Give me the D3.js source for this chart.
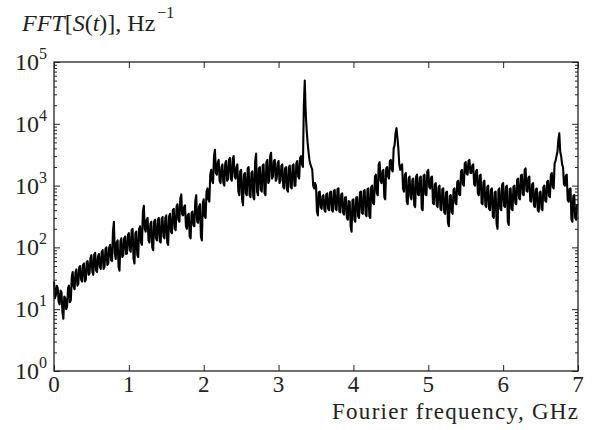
<!DOCTYPE html>
<html>
<head>
<meta charset="utf-8">
<script src="https://cdn.jsdelivr.net/npm/d3@7"></script>
<style>
  body { margin: 0; background: #fff; }
  text { font-family: "Liberation Serif", "DejaVu Serif", serif; fill: #222; }
</style>
</head>
<body>
<div id="chart"></div>
<script>
// spectrum values (Hz^-1) at 0, 0.025, 0.05 ... 7 GHz
var spectrum = [
  28, 17, 22, 12, 19, 7, 15, 11, 24, 14,
  40, 21, 44, 26, 50, 28, 55, 30, 60, 38,
  75, 36, 82, 40, 78, 45, 90, 48, 100, 55,
  110, 60, 260, 65, 130, 42, 140, 75, 150, 80,
  170, 85, 200, 55, 180, 70, 220, 110, 470, 180,
  300, 120, 260, 90, 280, 130, 300, 120, 310, 140,
  330, 110, 350, 170, 420, 190, 500, 260, 720, 330,
  480, 200, 350, 140, 380, 220, 700, 250, 500, 130,
  600, 300, 900, 550, 1800, 1100, 3800, 1500, 2600, 1100,
  2200, 1000, 2500, 1300, 2800, 1200, 3000, 1300, 2200, 700,
  1800, 480, 1600, 700, 2000, 650, 1700, 600, 3300, 700,
  2000, 800, 2200, 700, 2600, 1200, 3400, 1400, 2600, 1300,
  2500, 1200, 2200, 900, 2000, 800, 2100, 900, 2200, 1000,
  2500, 1300, 3000, 2000, 50000, 8000, 3500, 2200, 1800, 900,
  1000, 330, 800, 420, 700, 380, 750, 400, 800, 380,
  850, 400, 900, 370, 750, 340, 650, 280, 550, 180,
  600, 260, 650, 300, 800, 350, 850, 320, 900, 300,
  1000, 500, 1500, 700, 2400, 1100, 1800, 600, 2000, 1300,
  2600, 1700, 4500, 8500, 4000, 1800, 2200, 800, 1600, 500,
  1400, 600, 1300, 450, 1500, 700, 1400, 400, 1500, 700,
  1800, 900, 1400, 500, 1100, 450, 1000, 400, 900, 350,
  800, 220, 700, 350, 900, 500, 1200, 700, 1800, 1000,
  2400, 1500, 2600, 1600, 2200, 1000, 1800, 700, 1500, 500,
  1200, 450, 1000, 400, 900, 300, 800, 200, 900, 400,
  1100, 450, 1000, 230, 900, 400, 1000, 500, 1300, 600,
  1500, 700, 1900, 800, 1400, 550, 1100, 450, 900, 380,
  800, 400, 1000, 550, 1200, 650, 1600, 900, 2500, 3500,
  7000, 3000, 2000, 1000, 1500, 550, 900, 260, 700, 280,
  500
];
// values read in between, at 0.0125, 0.0375 ... 6.9875 GHz
var spectrumMid = [
  15, 24, 13, 20, 9, 16, 10, 22, 13, 34,
  23, 40, 24, 48, 30, 52, 28, 58, 36, 68,
  40, 76, 42, 72, 48, 85, 45, 95, 52, 100,
  62, 180, 80, 120, 48, 125, 70, 140, 78, 160,
  90, 190, 65, 170, 75, 200, 120, 380, 200, 280,
  130, 240, 100, 260, 140, 280, 125, 290, 150, 300,
  120, 320, 180, 400, 200, 460, 280, 620, 340, 450,
  220, 330, 150, 360, 230, 560, 260, 460, 150, 520,
  320, 800, 600, 1500, 1200, 3000, 1600, 2400, 1200, 2000,
  1100, 2300, 1200, 2600, 1300, 2700, 1400, 2000, 800, 1700,
  600, 1500, 750, 1900, 700, 1600, 650, 2500, 800, 1900,
  850, 2100, 750, 2400, 1100, 3000, 1300, 2500, 1200, 2300,
  1100, 2100, 950, 1900, 850, 2000, 950, 2100, 1000, 2300,
  1400, 2800, 2200, 20000, 15000, 5000, 2600, 2000, 1000, 1100,
  380, 780, 450, 680, 400, 720, 420, 780, 400, 820,
  420, 880, 380, 720, 360, 640, 300, 560, 220, 580,
  280, 640, 320, 780, 360, 820, 340, 880, 320, 950,
  520, 1400, 750, 2200, 1200, 1700, 650, 1900, 1400, 2500,
  1800, 4000, 7000, 6000, 2200, 2100, 900, 1500, 550, 1300,
  650, 1250, 480, 1400, 720, 1350, 420, 1450, 720, 1700,
  950, 1350, 520, 1050, 480, 950, 420, 880, 370, 780,
  250, 680, 370, 860, 520, 1150, 720, 1700, 1050, 2300,
  1550, 2500, 1600, 2100, 1050, 1700, 750, 1450, 520, 1150,
  480, 950, 420, 860, 320, 780, 240, 850, 420, 1050,
  470, 950, 260, 880, 420, 960, 520, 1250, 620, 1450,
  720, 1800, 820, 1350, 570, 1050, 470, 870, 400, 780,
  420, 950, 570, 1150, 680, 1500, 950, 2300, 3000, 5500,
  3500, 2200, 1050, 1450, 580, 880, 280, 680, 300, 480
];
var freqStep = 0.025;
var xTicks = [0, 1, 2, 3, 4, 5, 6, 7];
var yExponents = [0, 1, 2, 3, 4, 5];

// merge both lists into one series of [GHz, value]
var points = [];
spectrum.forEach((v, i) => {
  points.push([i * freqStep, v]);
  if (i < spectrumMid.length) points.push([(i + 0.5) * freqStep, spectrumMid[i]]);
});

var svgWidth = 593, svgHeight = 430;
var margin = { top: 62, right: 15, bottom: 59, left: 54 };
var chartWidth = svgWidth - margin.left - margin.right;
var chartHeight = svgHeight - margin.top - margin.bottom;

var svg = d3.select("#chart").append("svg")
  .attr("width", svgWidth)
  .attr("height", svgHeight);

var chartGroup = svg.append("g")
  .attr("transform", `translate(${margin.left}, ${margin.top})`);

var xScale = d3.scaleLinear().domain([0, 7]).range([0, chartWidth]);
var yScale = d3.scaleLog().domain([1, 1e5]).range([chartHeight, 0]);

// the spectrum line
var line = d3.line()
  .x(d => xScale(d[0]))
  .y(d => yScale(d[1]));

chartGroup.append("path")
  .datum(points)
  .attr("d", line)
  .attr("fill", "none")
  .attr("stroke", "#000")
  .attr("stroke-width", 2.1)
  .attr("stroke-linejoin", "round");

// ticks inside the frame, on all four sides
var minorVals = [];
yExponents.slice(0, -1).forEach(e => {
  for (var k = 2; k <= 9; k++) minorVals.push(k * Math.pow(10, e));
});

function tickAxis(axis, size, vals) {
  return axis.tickValues(vals).tickSize(size).tickFormat("");
}
var majorY = yExponents.map(e => Math.pow(10, e));

chartGroup.append("g").call(tickAxis(d3.axisBottom(xScale), -6, xTicks))
  .attr("transform", `translate(0, ${chartHeight})`);
chartGroup.append("g").call(tickAxis(d3.axisTop(xScale), -6, xTicks));
chartGroup.append("g").call(tickAxis(d3.axisLeft(yScale), -6, majorY));
chartGroup.append("g").call(tickAxis(d3.axisLeft(yScale), -3, minorVals));
chartGroup.append("g").call(tickAxis(d3.axisRight(yScale), -6, majorY))
  .attr("transform", `translate(${chartWidth}, 0)`);
chartGroup.append("g").call(tickAxis(d3.axisRight(yScale), -3, minorVals))
  .attr("transform", `translate(${chartWidth}, 0)`);

chartGroup.selectAll(".domain").remove();
chartGroup.selectAll(".tick line").attr("stroke", "#222").attr("stroke-width", 1);

// frame
chartGroup.append("rect")
  .attr("width", chartWidth)
  .attr("height", chartHeight)
  .attr("fill", "none")
  .attr("stroke", "#222")
  .attr("stroke-width", 1.3);

// x tick labels
chartGroup.selectAll(".xlab")
  .data(xTicks).enter()
  .append("text")
  .attr("x", d => xScale(d))
  .attr("y", chartHeight + 21)
  .attr("text-anchor", "middle")
  .attr("font-size", 23)
  .text(d => d);

// y tick labels 10^n
var ylab = chartGroup.selectAll(".ylab")
  .data(yExponents).enter()
  .append("text")
  .attr("x", -7)
  .attr("y", d => yScale(Math.pow(10, d)) + 8)
  .attr("text-anchor", "end")
  .attr("font-size", 24);
ylab.append("tspan").text("10");
ylab.append("tspan").attr("dy", -11).attr("font-size", 16).text(d => d);

// axis title
svg.append("text")
  .attr("x", margin.left + chartWidth)
  .attr("y", 419)
  .attr("text-anchor", "end")
  .attr("font-size", 23)
  .attr("textLength", 246)
  .text("Fourier frequency, GHz");

// y label at top left
var ytitle = svg.append("text")
  .attr("x", 22)
  .attr("y", 31)
  .attr("font-size", 24);
ytitle.append("tspan").attr("font-style", "italic").text("FFT");
ytitle.append("tspan").text("[");
ytitle.append("tspan").attr("font-style", "italic").text("S");
ytitle.append("tspan").text("(");
ytitle.append("tspan").attr("font-style", "italic").text("t");
ytitle.append("tspan").text(")], Hz");
ytitle.append("tspan").attr("dy", -13).attr("dx", 2).attr("font-size", 16).text("\u22121");
</script>
</body>
</html>
